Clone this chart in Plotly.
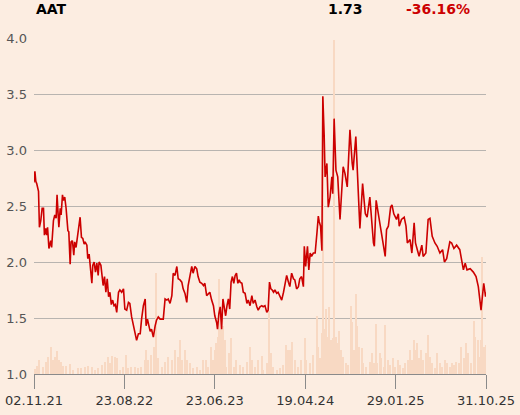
import plotly.graph_objects as go

# AAT closing price, by trading session (0 = 02.11.21)
session = [
    0, 2, 4, 6, 10, 12, 15, 18, 21, 23, 26, 28, 30, 33, 37, 39, 43, 46, 49, 51,
    55, 58, 60, 63, 65, 68, 71, 75, 77, 80, 82, 85, 88, 90, 93, 96, 99, 102, 105, 108,
    111, 113, 117, 119, 122, 125, 128, 130, 133, 136, 139, 142, 144, 148, 150, 153, 156, 159, 162, 165,
    168, 171, 174, 177, 180, 183, 187, 190, 194, 198, 201, 205, 209, 212, 216, 220, 223, 227, 231, 235,
    238, 242, 246, 248, 251, 254, 257, 260, 264, 268, 271, 275, 279, 283, 286, 290, 294, 297, 301, 305,
    308, 312, 316, 319, 323, 327, 330, 334, 338, 341, 345, 349, 352, 356, 360, 363, 367, 371, 375, 378,
    382, 386, 389, 393, 397, 400, 404, 406, 409, 412, 415, 418, 421, 424, 427, 430, 433, 436, 439, 442,
    445, 448, 451, 454, 456, 460, 463, 467, 471, 474, 478, 482, 485, 489, 493, 496, 500, 504, 507, 511,
    515, 518, 521, 524, 527, 530, 533, 537, 540, 544, 548, 552, 555, 559, 563, 566, 570, 574, 577, 581,
    585, 588, 592, 596, 598, 601, 605, 608, 611, 614, 618, 622, 626, 629, 631, 634, 637, 639, 642, 644,
    648, 651, 655, 659, 661, 664, 668, 672, 677, 681, 684, 688, 693, 695, 699, 704, 706, 712, 714, 717,
    721, 727, 733, 737, 743, 751, 753, 757, 762, 767, 773, 777, 780, 784, 789, 792, 796, 802, 806, 808,
    813, 819, 823, 826, 832, 836, 841, 844, 848, 852, 858, 861, 867, 872, 876, 881, 887, 892, 898, 904,
    908, 913, 920, 924, 929, 935, 942, 946, 950, 954, 958, 965, 972, 978, 983, 989, 995, 999, 1000,
]
close = [
    2.71, 2.81, 2.72, 2.70, 2.63, 2.31, 2.37, 2.48, 2.48, 2.24, 2.30, 2.24, 2.31, 2.12, 2.19, 2.13, 2.37, 2.42, 2.39, 2.60,
    2.31, 2.48, 2.42, 2.60, 2.55, 2.58, 2.48, 2.28, 2.27, 1.98, 2.18, 2.19, 2.06, 2.18, 2.13, 2.21, 2.30, 2.40, 2.22, 2.21,
    2.16, 2.18, 2.15, 2.03, 2.07, 1.94, 1.81, 1.97, 2.00, 1.91, 1.99, 1.88, 2.00, 1.97, 1.89, 1.79, 1.87, 1.73, 1.85, 1.69,
    1.73, 1.62, 1.66, 1.61, 1.62, 1.55, 1.73, 1.75, 1.73, 1.76, 1.58, 1.57, 1.64, 1.63, 1.51, 1.43, 1.35, 1.30, 1.36, 1.36,
    1.49, 1.61, 1.67, 1.43, 1.49, 1.42, 1.38, 1.40, 1.33, 1.43, 1.48, 1.51, 1.49, 1.49, 1.49, 1.67, 1.66, 1.67, 1.63, 1.70,
    1.90, 1.88, 1.96, 1.85, 1.84, 1.82, 1.76, 1.72, 1.64, 1.79, 1.87, 1.96, 1.90, 1.96, 1.94, 1.87, 1.82, 1.81, 1.79, 1.81,
    1.70, 1.72, 1.73, 1.66, 1.61, 1.52, 1.46, 1.40, 1.54, 1.60, 1.40, 1.67, 1.58, 1.52, 1.61, 1.67, 1.58, 1.82, 1.87, 1.81,
    1.88, 1.90, 1.81, 1.84, 1.82, 1.81, 1.73, 1.72, 1.63, 1.66, 1.61, 1.70, 1.63, 1.66, 1.60, 1.57, 1.60, 1.61, 1.60, 1.61,
    1.55, 1.57, 1.82, 1.76, 1.75, 1.73, 1.75, 1.72, 1.73, 1.70, 1.66, 1.73, 1.79, 1.88, 1.82, 1.78, 1.90, 1.85, 1.84, 1.76,
    1.78, 1.85, 1.87, 1.78, 2.14, 1.96, 2.14, 1.93, 2.08, 2.05, 2.08, 2.08, 2.26, 2.41, 2.36, 2.32, 2.10, 3.48, 3.13, 2.76,
    2.88, 2.49, 2.58, 2.76, 2.61, 3.28, 2.82, 2.76, 2.38, 2.67, 2.85, 2.79, 2.67, 2.84, 3.18, 2.88, 2.82, 3.12, 2.91, 2.58,
    2.30, 2.70, 2.43, 2.40, 2.58, 2.17, 2.14, 2.55, 2.43, 2.29, 2.17, 2.05, 2.29, 2.32, 2.49, 2.51, 2.43, 2.38, 2.43, 2.32,
    2.38, 2.40, 2.32, 2.17, 2.20, 2.08, 2.35, 2.17, 2.11, 2.05, 2.15, 2.05, 2.08, 2.38, 2.39, 2.23, 2.17, 2.14, 2.08, 2.11,
    2.00, 2.03, 2.18, 2.17, 2.12, 2.15, 2.11, 2.02, 1.93, 1.99, 1.93, 1.94, 1.91, 1.87, 1.78, 1.57, 1.81, 1.69, 1.73,
]

# traded volume (thousand shares)
vol_session = [
    2, 6, 12, 21, 28, 32, 39, 43, 46, 52, 56, 61, 65, 72, 80, 87, 98, 105, 113, 120,
    128, 135, 142, 150, 157, 164, 168, 173, 179, 184, 190, 198, 204, 209, 216, 223, 231, 238, 246, 249,
    253, 260, 265, 270, 275, 283, 290, 297, 305, 312, 318, 323, 327, 334, 338, 345, 352, 360, 367, 375,
    381, 386, 393, 397, 400, 404, 408, 410, 415, 419, 423, 426, 432, 437, 442, 448, 456, 463, 471, 478,
    482, 489, 496, 504, 507, 515, 520, 524, 529, 537, 544, 552, 559, 563, 566, 572, 577, 585, 592, 600,
    603, 611, 618, 626, 629, 633, 637, 639, 642, 646, 650, 653, 657, 661, 664, 668, 672, 675, 679, 684,
    690, 695, 701, 704, 708, 712, 716, 720, 725, 729, 736, 743, 748, 752, 756, 760, 765, 769, 774, 778,
    783, 788, 794, 799, 806, 811, 817, 822, 827, 832, 836, 840, 844, 848, 852, 856, 861, 867, 872, 876,
    881, 887, 893, 898, 904, 909, 915, 920, 925, 930, 935, 940, 946, 952, 957, 961, 967, 973, 977, 982,
    985, 989, 992, 996, 1000,
]
volume = [
    5, 8, 14, 7, 12, 17, 27, 14, 17, 23, 14, 12, 8, 8, 10, 4, 6, 6, 7, 8,
    7, 4, 6, 9, 12, 17, 11, 18, 17, 16, 4, 7, 19, 6, 7, 7, 6, 7, 14, 24,
    14, 19, 27, 100, 16, 7, 12, 17, 14, 24, 17, 34, 14, 24, 14, 11, 6, 7, 4, 14,
    14, 7, 27, 14, 24, 31, 37, 94, 44, 47, 34, 7, 21, 36, 7, 14, 9, 7, 12, 27,
    14, 7, 14, 18, 4, 11, 62, 21, 7, 4, 6, 9, 29, 24, 24, 32, 14, 7, 14, 36,
    14, 11, 19, 57, 27, 16, 41, 274, 44, 64, 37, 66, 34, 36, 330, 37, 31, 42, 24, 17,
    11, 9, 67, 51, 24, 79, 47, 27, 26, 11, 7, 12, 21, 11, 49, 11, 21, 16, 7, 48,
    14, 9, 16, 7, 14, 9, 6, 11, 14, 24, 14, 34, 24, 31, 16, 24, 14, 21, 39, 17,
    11, 6, 21, 11, 7, 14, 11, 7, 11, 9, 12, 11, 27, 16, 31, 21, 11, 52, 37, 34,
    17, 34, 116, 27, 29,
]

tick_sessions = [0, 200, 400, 600, 800, 1000]
tick_labels = ["02.11.21", "23.08.22", "23.06.23", "19.04.24", "29.01.25", "31.10.25"]

ticker = "AAT"
last_price = close[-1]
change = (close[-1] / close[0] - 1) * 100

BG = "#FCEDE1"

fig = go.Figure()

# volume bars in the background
fig.add_trace(go.Bar(
    x=vol_session, y=volume, width=3,
    marker=dict(color="#F8D9C3", line=dict(width=0)),
    yaxis="y", showlegend=False, hoverinfo="skip"
))

# price line on top
fig.add_trace(go.Scatter(
    x=session, y=close, mode="lines",
    line=dict(color="#CC0000", width=1.6),
    yaxis="y2", showlegend=False
))

fig.update_layout(
    width=520, height=415,
    margin=dict(l=34, r=34, t=38, b=41, autoexpand=False),
    paper_bgcolor=BG, plot_bgcolor=BG,
    font=dict(family="DejaVu Sans", size=13, color="#333333"),
    bargap=0,
    xaxis=dict(
        range=[0, 1000], tickvals=tick_sessions, ticktext=tick_labels,
        showgrid=False, zeroline=False, automargin=False,
        showline=True, linecolor="#8a8a8a", linewidth=1,
        ticks="outside", ticklen=14, tickcolor="#8a8a8a", tickwidth=1,
        tickfont=dict(size=13, color="#333333"),
    ),
    yaxis=dict(range=[0, 332], visible=False, fixedrange=True, automargin=False),
    yaxis2=dict(
        overlaying="y", side="left", automargin=False,
        range=[1.0, 4.0], dtick=0.5, tick0=1.0, tickformat=".1f",
        showgrid=True, gridcolor="#b8b4b0", gridwidth=1,
        zeroline=False, showline=False, ticks="", ticklabelstandoff=6,
        tickfont=dict(size=13, color="#555555"),
    ),
    annotations=[
        dict(text=f"<b>{ticker}</b>", x=0, y=1.086, xref="paper", yref="paper",
             xanchor="left", yanchor="middle", showarrow=False,
             font=dict(size=14, color="#000000")),
        dict(text=f"<b>{last_price:.2f}</b>", x=0.732, y=1.086, xref="paper", yref="paper",
             xanchor="right", yanchor="middle", showarrow=False,
             font=dict(size=14, color="#000000")),
        dict(text=f"<b>{change:.2f}%</b>", x=0.969, y=1.086, xref="paper", yref="paper",
             xanchor="right", yanchor="middle", showarrow=False,
             font=dict(size=14, color="#CC0000")),
    ],
)

# drop the page's default body margin so the 520x415 figure fills the window
fig.write_html("out.html", config={"displayModeBar": False},
               post_script="document.body.style.margin='0';")
